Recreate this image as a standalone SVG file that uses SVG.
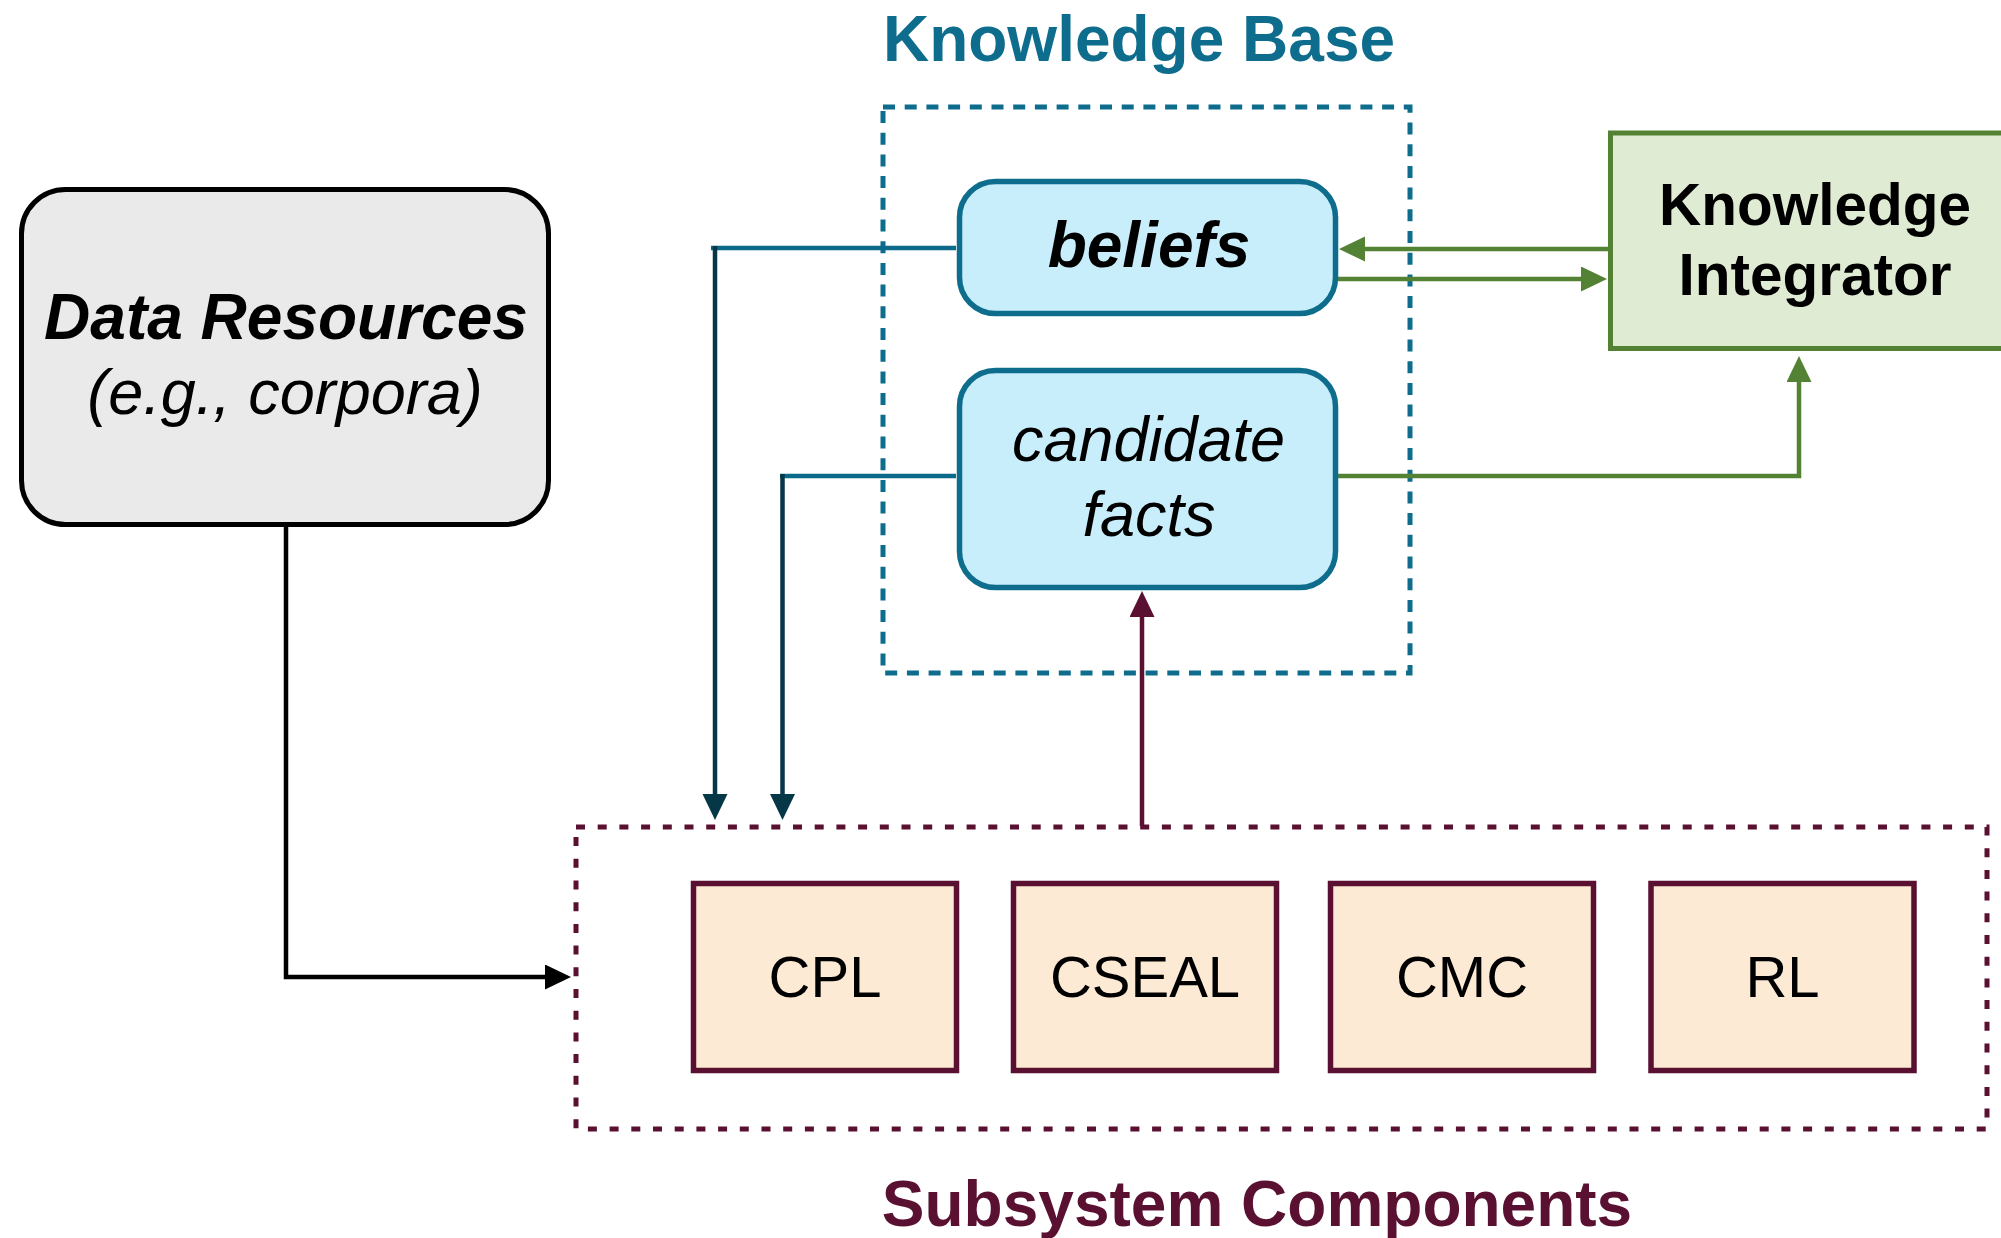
<svg xmlns="http://www.w3.org/2000/svg" width="2001" height="1238" viewBox="0 0 2001 1238">
  <style>
    text { font-family: "Liberation Sans", Arial, sans-serif; text-anchor: middle; }
    .title { font-size: 64px; font-weight: bold; }
    .kb-title { fill: #0E6D8D; }
    .sub-title { fill: #5A1030; }
    .node-big { font-size: 64px; }
    .node-ital { font-size: 63px; font-style: italic; }
    .comp-text { font-size: 58px; fill: #000; }
    .ki-text { font-size: 58.5px; font-weight: bold; fill: #000; }
    .group-kb { fill: none; stroke: #0E6D8D; stroke-width: 5; stroke-dasharray: 12 9.7; }
    .group-sub { fill: none; stroke: #5A1030; stroke-width: 5; stroke-dasharray: 9 12.7; }
    .store { fill: #C9EEFB; stroke: #0E6D8D; stroke-width: 5.5; }
    .comp { fill: #FDEAD4; stroke: #5A1030; stroke-width: 5.5; }
    .conn { fill: none; stroke-width: 4.5; }
    .c-black { stroke: #000; }
    .c-teal { stroke: #0B6A8A; }
    .c-navy { stroke: #063746; }
    .c-green { stroke: #548235; }
    .c-maroon { stroke: #5A1030; }
  </style>
  <defs>
    <marker id="arrow-black" markerUnits="userSpaceOnUse" markerWidth="26" markerHeight="26" refX="16" refY="12.5" orient="auto">
      <path d="M0,0 L26,12.5 L0,25 Z" fill="#000"/>
    </marker>
    <marker id="arrow-navy" markerUnits="userSpaceOnUse" markerWidth="26" markerHeight="26" refX="16" refY="12.5" orient="auto">
      <path d="M0,0 L26,12.5 L0,25 Z" fill="#063746"/>
    </marker>
    <marker id="arrow-green" markerUnits="userSpaceOnUse" markerWidth="26" markerHeight="26" refX="16" refY="12.5" orient="auto">
      <path d="M0,0 L26,12.5 L0,25 Z" fill="#548235"/>
    </marker>
    <marker id="arrow-maroon" markerUnits="userSpaceOnUse" markerWidth="26" markerHeight="26" refX="16" refY="12.5" orient="auto">
      <path d="M0,0 L26,12.5 L0,25 Z" fill="#5A1030"/>
    </marker>
  </defs>

  <rect width="2001" height="1238" fill="#fff"/>

  <!-- Knowledge Base group -->
  <g id="knowledge-base">
    <text class="title kb-title" x="1139" y="61">Knowledge Base</text>
    <rect class="group-kb" x="883" y="107" width="527" height="566"/>
  </g>

  <!-- Subsystem Components group -->
  <g id="subsystem-components">
    <rect class="group-sub" x="576" y="827" width="1411" height="302"/>
    <text class="title sub-title" x="1257" y="1226">Subsystem Components</text>
  </g>

  <!-- Connectors -->
  <g id="connectors">
    <path class="conn c-black" d="M286,527 V977 H561" marker-end="url(#arrow-black)"/>
    <path class="conn c-teal" d="M956,248 H711"/>
    <path class="conn c-navy" d="M715,246 V810" marker-end="url(#arrow-navy)"/>
    <path class="conn c-teal" d="M956,476 H780"/>
    <path class="conn c-navy" d="M782.5,474 V810" marker-end="url(#arrow-navy)"/>
    <path class="conn c-maroon" d="M1142,826 V601" marker-end="url(#arrow-maroon)"/>
    <path class="conn c-green" d="M1609,249 H1349" marker-end="url(#arrow-green)"/>
    <path class="conn c-green" d="M1338,279 H1597" marker-end="url(#arrow-green)"/>
    <path class="conn c-green" d="M1338,476 H1799 V366" marker-end="url(#arrow-green)"/>
  </g>

  <!-- Data Resources -->
  <g id="data-resources">
    <rect x="21.5" y="189.5" width="527" height="335" rx="44" ry="44" fill="#EAEAEA" stroke="#000" stroke-width="5"/>
    <text class="node-big" x="286" y="339" font-weight="bold" font-style="italic">Data Resources</text>
    <text class="node-ital" x="285" y="414">(e.g., corpora)</text>
  </g>

  <!-- beliefs -->
  <g id="beliefs">
    <rect class="store" x="959.5" y="181.5" width="376" height="132" rx="36" ry="36"/>
    <text class="node-big" x="1149" y="267" font-weight="bold" font-style="italic">beliefs</text>
  </g>

  <!-- candidate facts -->
  <g id="candidate-facts">
    <rect class="store" x="959.5" y="370.5" width="376" height="217" rx="36" ry="36"/>
    <text class="node-ital" x="1148.5" y="461">candidate</text>
    <text class="node-ital" x="1149" y="536">facts</text>
  </g>

  <!-- Knowledge Integrator -->
  <g id="knowledge-integrator">
    <rect x="1610.5" y="133" width="420" height="215.5" fill="#E0EBD4" stroke="#548235" stroke-width="5"/>
    <text class="ki-text" x="1815" y="225">Knowledge</text>
    <text class="ki-text" x="1815" y="295">Integrator</text>
  </g>

  <!-- Subsystem components -->
  <g id="cpl">
    <rect class="comp" x="693.5" y="883.5" width="263" height="187"/>
    <text class="comp-text" x="825" y="997">CPL</text>
  </g>
  <g id="cseal">
    <rect class="comp" x="1013.5" y="883.5" width="263" height="187"/>
    <text class="comp-text" x="1145" y="997">CSEAL</text>
  </g>
  <g id="cmc">
    <rect class="comp" x="1330.5" y="883.5" width="263" height="187"/>
    <text class="comp-text" x="1462" y="997">CMC</text>
  </g>
  <g id="rl">
    <rect class="comp" x="1651" y="883.5" width="263" height="187"/>
    <text class="comp-text" x="1782.5" y="997">RL</text>
  </g>
</svg>
